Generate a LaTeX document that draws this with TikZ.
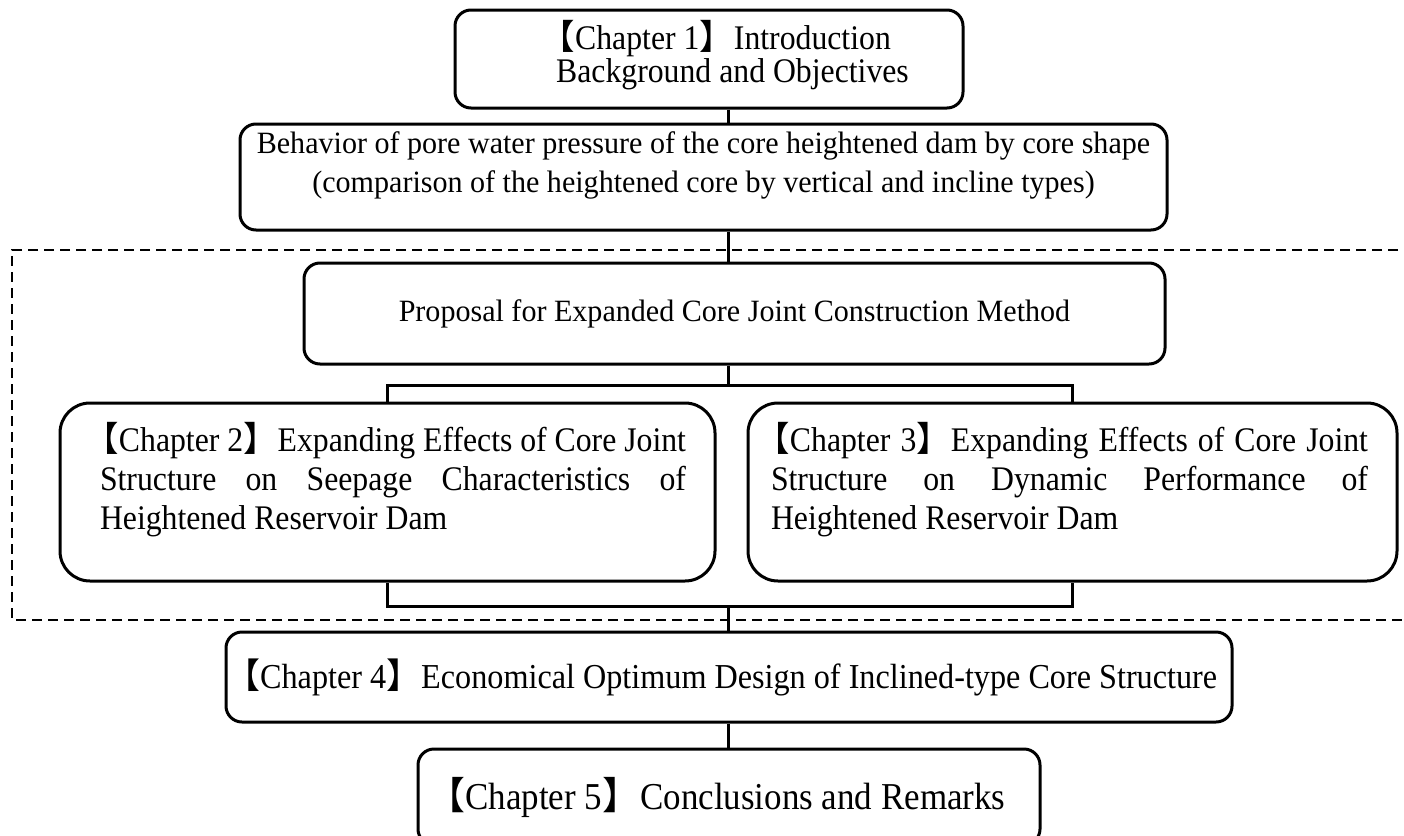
\documentclass[tikz,border=0pt]{standalone}
\usepackage{fontspec}
\setmainfont{Liberation Serif}
\newfontfamily\fA[FakeStretch=0.97]{Liberation Serif}
\newfontfamily\fB[FakeStretch=0.92]{Liberation Serif}
\newfontfamily\cjk{Noto Sans CJK SC}
\newcommand\lbk{\kern-.45em{\cjk 【}}
\newcommand\rbk{{\cjk 】}}
\begin{document}
\begin{tikzpicture}[x=1pt,y=-1pt,
  box/.style={draw,line width=3pt,rounded corners=16pt,inner sep=0pt},
  bigbox/.style={box,rounded corners=30pt},
  txt/.style={inner sep=0pt,align=center},
  link/.style={line width=3pt},
  frame/.style={line width=2.5pt,dash pattern=on 10pt off 6pt}]
\useasboundingbox (0,0) rectangle (1404,835);
\coordinate (spine) at (728,0);
% boxes
\node[box,minimum width=508pt,minimum height=98pt] (b1) at (709,59) {};
\node[box,minimum width=927pt,minimum height=106pt] (b2) at (703.5,177) {};
\node[box,minimum width=861pt,minimum height=101pt] (b3) at (734.5,313.5) {};
\node[bigbox,minimum width=655pt,minimum height=178pt] (c2) at (387.5,492) {};
\node[bigbox,minimum width=649pt,minimum height=178pt] (c3) at (1072.5,492) {};
\node[box,minimum width=1006pt,minimum height=90pt] (c4) at (729,677) {};
\node[box,minimum width=622pt,minimum height=96pt] (c5) at (729,797) {};
% texts
\node[txt,align=left,anchor=west,font=\fB\fontsize{34.5}{33}\selectfont] (b1t) at ([xshift=-153pt,yshift=4pt]b1.center)
  {\lbk Chapter 1\rbk Introduction\\Background and Objectives};
\node[txt,font=\fA\fontsize{31}{39}\selectfont] (b2t) at ([yshift=12pt]b2.center)
  {Behavior of pore water pressure of the core heightened dam by core shape\\(comparison of the heightened core by vertical and incline types)};
\node[txt,font=\fA\fontsize{31}{39}\selectfont] (b3t) at (b3.center)
  {Proposal for Expanded Core Joint Construction Method};
\node[txt,font=\fB\fontsize{34.5}{39}\selectfont,text width=586pt,align=justify] (c2t) at ([xshift=5.5pt,yshift=12pt]c2.center)
  {\lbk Chapter 2\rbk Expanding Effects of Core Joint\linebreak Structure on Seepage Characteristics of\linebreak Heightened Reservoir Dam};
\node[txt,font=\fB\fontsize{34.5}{39}\selectfont,text width=597pt,align=justify] (c3t) at ([xshift=-3pt,yshift=12pt]c3.center)
  {\lbk Chapter 3\rbk Expanding Effects of Core Joint\linebreak Structure on Dynamic Performance of\linebreak Heightened Reservoir Dam};
\node[txt,font=\fB\fontsize{35}{39}\selectfont] (c4t) at (c4.center)
  {\lbk Chapter 4\rbk Economical Optimum Design of Inclined-type Core Structure};
\node[txt,font=\fB\fontsize{38}{39}\selectfont] (c5t) at ([xshift=-4pt]c5.center)
  {\lbk Chapter 5\rbk Conclusions and Remarks};
% connectors
\coordinate (jt) at (728,385);
\coordinate (jb) at (728,606);
\draw[link] (b1.south -| spine) -- (b2.north -| spine);
\draw[link] (b2.south -| spine) -- (b3.north -| spine);
\draw[link] (b3.south -| jt) -- (jt);
\draw[link] (c2.north) |- (jt) -| (c3.north);
\draw[link] (c2.south) |- (jb) -| (c3.south);
\draw[link] (jb) -- (c4.north -| jb);
\draw[link] (c4.south -| spine) -- (c5.north -| spine);
% dashed frame
\coordinate (fa) at (1430,250);
\coordinate (fb) at (12,250);
\coordinate (fc) at (12,620);
\coordinate (fd) at (1430,620);
\draw[frame] (fa) -- (fb) -- (fc) -- (fd);
\end{tikzpicture}
\end{document}
